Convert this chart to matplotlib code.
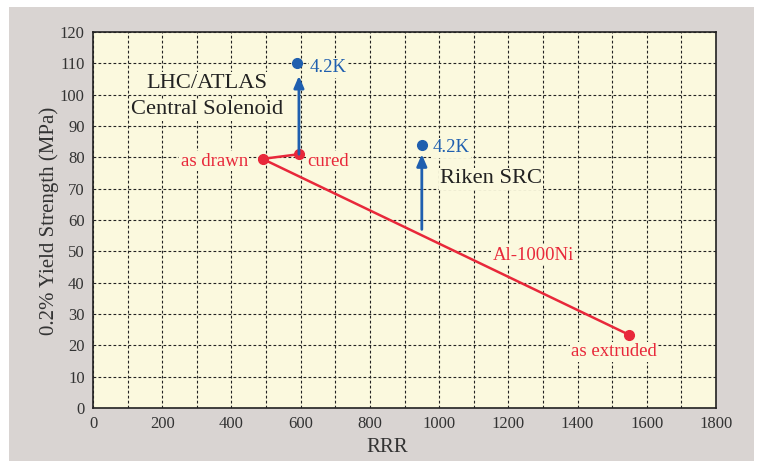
import matplotlib
matplotlib.use("Agg")
import matplotlib.pyplot as plt

# Data
line_rrr = [490, 595]          # as drawn -> cured
line_ys = [79.5, 81]
al_rrr = [490, 1550]           # as drawn -> as extruded (Al-1000Ni)
al_ys = [79.5, 23.3]
lhc_42k = (590, 110)
riken_42k = (950, 84)
lhc_arrow = (595, 81, 106)     # x, y start, y end
riken_arrow = (950, 57, 81)

xticks = list(range(0, 1801, 200))
yticks = list(range(0, 121, 10))

red = "#E8283A"
blue = "#1F5FAF"
bg = "#FBF9DE"
serif = ["Liberation Serif", "DejaVu Serif"]

fig = plt.figure(figsize=(7.61, 4.61), dpi=100)
fig.patch.set_facecolor("white")
# gray panel
fig.patches.append(plt.Rectangle((9/761, 0), (754-9)/761, 1 - 7/461,
                                 transform=fig.transFigure, facecolor="#D9D4D2",
                                 edgecolor="none", zorder=-10))
ax = fig.add_axes([93/761, 1 - 408/461, (716-93)/761, (408-32)/461])
ax.set_facecolor(bg)
ax.set_xlim(0, 1800)
ax.set_ylim(0, 120)
ax.set_xticks(xticks)
ax.set_yticks(yticks)
ax.set_xticks(range(0, 1801, 100), minor=True)
ax.grid(True, which="both", color="#222222", linestyle=(0, (2.5, 2)), linewidth=0.8)
ax.tick_params(which="both", length=0, labelsize=12, colors="#333333", pad=6)
for lab in ax.get_xticklabels() + ax.get_yticklabels():
    lab.set_family(serif)
for s in ax.spines.values():
    s.set_color("#222222")
    s.set_linewidth(1.2)

ax.set_xlabel("RRR", family=serif, fontsize=15, color="#333333")
ax.xaxis.set_label_coords(0.472, -0.104)
ax.xaxis.label.set_va("center")
ax.set_ylabel("0.2% Yield Strength (MPa)", family=serif, fontsize=15, color="#333333")
ax.yaxis.set_label_coords(-0.0706, 0.497)
ax.yaxis.label.set_va("center")

# red lines
ax.plot(al_rrr, al_ys, color=red, lw=1.8, zorder=3)
ax.plot(line_rrr, line_ys, color=red, lw=1.8, zorder=3)
ax.plot([line_rrr[0], line_rrr[1], al_rrr[1]], [line_ys[0], line_ys[1], al_ys[1]],
        "o", color=red, ms=7, zorder=4)

# arrows
for x, y0, y1 in [lhc_arrow, riken_arrow]:
    ax.annotate("", xy=(x, y1), xytext=(x, y0),
                arrowprops=dict(arrowstyle="-|>,head_length=0.7,head_width=0.3",
                                color=blue, lw=2, shrinkA=0, shrinkB=0), zorder=4)
ax.plot([lhc_42k[0], riken_42k[0]], [lhc_42k[1], riken_42k[1]], "o", color=blue, ms=7, zorder=5)

# texts
box = dict(facecolor=bg, edgecolor="none", pad=1.0)
def label(x, y, s, color, size, ha):
    ax.text(x, y, s, family=serif, fontsize=size, color=color, ha=ha, va="center",
            bbox=box, zorder=2.5)

label(330, 103.7, "LHC/ATLAS", "#222222", 16.2, "center")
label(330, 95.2, "Central Solenoid", "#222222", 16.2, "center")
label(1150, 73.1, "Riken SRC", "#222222", 16.2, "center")
label(627, 108.6, "4.2K", blue, 13.5, "left")
label(980, 83, "4.2K", blue, 13.5, "left")
label(448, 78.8, "as drawn", red, 13.5, "right")
label(618, 78.8, "cured", red, 13.5, "left")
label(1272, 48.8, "Al-1000Ni", red, 13.5, "center")
label(1506, 17.9, "as extruded", red, 13.5, "center")

fig.savefig("out.png", dpi=100)
